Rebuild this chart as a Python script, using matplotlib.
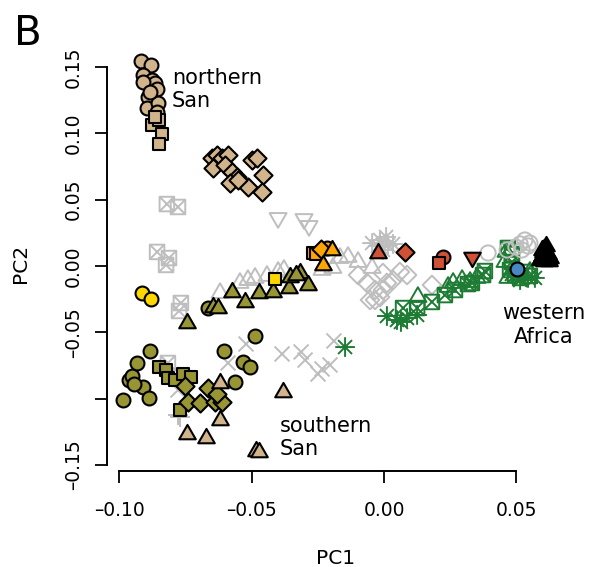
import matplotlib
matplotlib.use("Agg")
import matplotlib.pyplot as plt
from matplotlib.path import Path
import numpy as np

plt.rcParams["font.family"] = "DejaVu Sans"

# ---- colours ----
TAN = "#D2B48C"
OLIVE = "#979534"
GOLD = "#FFD700"
ORANGE = "#FFA500"
RED = "#CF5136"
BLUE = "#4A86C0"
GREEN = "#1D7B33"
GRAY = "#BEBEBE"

# ---- northern San (tan) ----
nsan_circle_x = [-0.0918, -0.0881, -0.0911, -0.0877, -0.0865, -0.0909, -0.0856, -0.0890, -0.0896, -0.0852, -0.0858, -0.0884]
nsan_circle_y = [0.1547, 0.1515, 0.1440, 0.1402, 0.1377, 0.1389, 0.1332, 0.1276, 0.1189, 0.1226, 0.1163, 0.1314]
nsan_square_x = [-0.0877, -0.0849, -0.0839, -0.0849, -0.0865]
nsan_square_y = [0.1063, 0.1100, 0.0995, 0.0920, 0.1125]
tan_diamond_x = [-0.0651, -0.0632, -0.0613, -0.0588, -0.0645, -0.0600, -0.0575, -0.0556, -0.0582, -0.0512, -0.0456, -0.0462, -0.0500, -0.0481, -0.0550]
tan_diamond_y = [0.0812, 0.0837, 0.0812, 0.0837, 0.0736, 0.0761, 0.0711, 0.0673, 0.0623, 0.0598, 0.0686, 0.0560, 0.0799, 0.0812, 0.0648]

# ---- southern San (tan triangles) ----
ssan_tri_x = [-0.0744, -0.0672, -0.0619, -0.0619, -0.0381, -0.0483, -0.0472]
ssan_tri_y = [-0.1266, -0.1296, -0.0882, -0.1161, -0.0950, -0.1394, -0.1402]

# ---- olive groups ----
olive_circle_x = [-0.0986, -0.0963, -0.0952, -0.0933, -0.0910, -0.0887, -0.0884, -0.0944, -0.0604, -0.0487, -0.0532, -0.0506, -0.0563, -0.0665]
olive_circle_y = [-0.1010, -0.0859, -0.0829, -0.0731, -0.0912, -0.0995, -0.0641, -0.0889, -0.0641, -0.0528, -0.0724, -0.0761, -0.0874, -0.0317]
olive_square_x = [-0.0850, -0.0823, -0.0816, -0.0789, -0.0759, -0.0729, -0.0770]
olive_square_y = [-0.0761, -0.0784, -0.0844, -0.0859, -0.0814, -0.0837, -0.1085]
olive_diamond_x = [-0.0752, -0.0739, -0.0695, -0.0663, -0.0638, -0.0613, -0.0631]
olive_diamond_y = [-0.0907, -0.1023, -0.1035, -0.0922, -0.1023, -0.1023, -0.0965]
olive_tri_x = [-0.0744, -0.0646, -0.0627, -0.0574, -0.0525, -0.0472, -0.0419, -0.0359, -0.0317, -0.0287, -0.0355, -0.0332]
olive_tri_y = [-0.0430, -0.0309, -0.0317, -0.0196, -0.0271, -0.0204, -0.0196, -0.0166, -0.0053, -0.0143, -0.0083, -0.0068]

# ---- yellow / orange / red / blue / black ----
gold_circle_x = [-0.0913, -0.0881]
gold_circle_y = [-0.0201, -0.0249]
gold_square_x = [-0.0412]
gold_square_y = [-0.0100]
orange_square_x = [-0.0268, -0.0258]
orange_square_y = [0.0098, 0.0090]
orange_circle_x = [-0.0215]
orange_circle_y = [0.0136]
orange_diamond_x = [-0.0238]
orange_diamond_y = [0.0128]
orange_tri_x = [-0.0196, -0.0230]
orange_tri_y = [0.0121, 0.0008]
red_tri_x = [-0.0024]
red_tri_y = [0.0096]
red_diamond_x = [0.0079]
red_diamond_y = [0.0108]
red_circle_x = [0.0224]
red_circle_y = [0.0070]
red_square_x = [0.0208]
red_square_y = [0.0020]
red_invtri_x = [0.0331]
red_invtri_y = [0.0070]
blue_circle_x = [0.0501]
blue_circle_y = [-0.0025]
black_tri_x = [0.0590, 0.0600, 0.0610, 0.0620, 0.0595, 0.0605, 0.0615, 0.0625, 0.0600, 0.0610, 0.0592, 0.0618, 0.0605, 0.0612, 0.0598, 0.0622, 0.0608, 0.0603]
black_tri_y = [0.0045, 0.0050, 0.0042, 0.0048, 0.0075, 0.0080, 0.0070, 0.0060, 0.0105, 0.0100, 0.0060, 0.0090, 0.0130, 0.0150, 0.0120, 0.0040, 0.0055, 0.0035]

# ---- green (open symbols) ----
green_xsq_x = [0.0072, 0.0125, 0.0181, 0.0230, 0.0268, 0.0317, 0.0332, 0.0374, 0.0381, 0.0476, 0.0495, 0.0514, 0.0532, 0.0551, 0.0483, 0.0468, 0.0483]
green_xsq_y = [-0.0317, -0.0317, -0.0271, -0.0219, -0.0181, -0.0136, -0.0128, -0.0068, -0.0038, -0.0030, -0.0068, -0.0090, -0.0045, -0.0075, 0.0030, 0.0136, 0.0090]
green_tri_x = [0.0128, 0.0242, 0.0261, 0.0295, 0.0325, 0.0351, 0.0457, 0.0495, 0.0468, 0.0551, 0.0461]
green_tri_y = [-0.0234, -0.0158, -0.0128, -0.0106, -0.0121, -0.0090, 0.0030, -0.0030, -0.0090, -0.0045, 0.0106]
green_star_x = [0.0011, 0.0049, 0.0087, 0.0125, 0.0064, -0.0147, 0.0514, 0.0544, 0.0570, 0.0483]
green_star_y = [-0.0377, -0.0407, -0.0392, -0.0369, -0.0422, -0.0611, -0.0106, -0.0090, -0.0090, -0.0060]

# ---- grey reference panels (open symbols) ----
gray_xsq_x = [-0.0820, -0.0778, -0.0857, -0.0812, -0.0823, -0.0767, -0.0774, -0.0816]
gray_xsq_y = [0.0467, 0.0445, 0.0106, 0.0060, 0.0008, -0.0279, -0.0339, -0.0731]
gray_plus_x = [-0.0778, -0.0770]
gray_plus_y = [-0.1123, -0.1140]
gray_invtri_x = [-0.0400, -0.0302, -0.0283]
gray_invtri_y = [0.0362, 0.0354, 0.0302]
gray_tri_x = [-0.0619, -0.0544, -0.0514, -0.0487, -0.0442, -0.0400, -0.0378, -0.0234, -0.0193, -0.0166, -0.0136, -0.0098, -0.0045]
gray_tri_y = [-0.0204, -0.0128, -0.0106, -0.0090, -0.0075, -0.0045, -0.0030, -0.0030, -0.0015, 0.0060, 0.0068, 0.0030, -0.0015]
gray_cross_x = [-0.0589, -0.0521, -0.0385, -0.0313, -0.0298, -0.0234, -0.0204, -0.0189, -0.0778, -0.0249]
gray_cross_y = [-0.0731, -0.0588, -0.0663, -0.0648, -0.0709, -0.0776, -0.0746, -0.0565, -0.0935, -0.0814]
gray_star_x = [-0.0045, -0.0015, 0.0008, 0.0015, -0.0004, 0.0034, -0.0023]
gray_star_y = [0.0173, 0.0196, 0.0219, 0.0158, 0.0121, 0.0166, 0.0151]
gray_diamond_x = [-0.0098, -0.0064, -0.0034, -0.0015, 0.0011, 0.0034, 0.0060, 0.0087, -0.0034, -0.0004, -0.0053, -0.0004, 0.0181]
gray_diamond_y = [-0.0068, -0.0128, -0.0181, -0.0234, -0.0128, -0.0106, -0.0045, -0.0068, -0.0256, -0.0053, -0.0256, -0.0181, -0.0143]
gray_circle_x = [0.0393, 0.0465, 0.0514, 0.0532, 0.0544, 0.0521, 0.0551, 0.0498]
gray_circle_y = [0.0098, 0.0121, 0.0166, 0.0196, 0.0151, 0.0121, 0.0173, 0.0143]

# ---- marker shapes (R-like plotting symbols) ----
M, L, C = Path.MOVETO, Path.LINETO, Path.CLOSEPOLY
h = np.sqrt(0.5)
TRI_UP = Path([(0, 1), (-0.866, -0.5), (0.866, -0.5), (0, 1)], [M, L, L, C])
TRI_DOWN = Path([(0, -1), (-0.866, 0.5), (0.866, 0.5), (0, -1)], [M, L, L, C])
DIAMOND = Path([(0, 1), (1, 0), (0, -1), (-1, 0), (0, 1)], [M, L, L, L, C])
STAR = Path([(-1, 0), (1, 0), (0, -1), (0, 1), (-h, -h), (h, h), (-h, h), (h, -h)],
            [M, L, M, L, M, L, M, L])
XBOX = Path([(-1, -1), (1, -1), (1, 1), (-1, 1), (-1, -1), (1, 1), (-1, 1), (1, -1)],
            [M, L, L, L, L, L, M, L])
PLUS = Path([(-1, 0), (1, 0), (0, -1), (0, 1)], [M, L, M, L])
CROSS = Path([(-1, -1), (1, 1), (-1, 1), (1, -1)], [M, L, M, L])

# symbol areas (pt^2)
S_CIRC, S_SQ, S_DIA, S_TRI = 100, 85, 170, 190
S_OXSQ, S_OTRI, S_OSTAR, S_OCROSS, S_ODIA, S_OCIRC = 110, 200, 200, 115, 180, 120

fig = plt.figure(figsize=(5.9, 5.67), dpi=100)
ax = fig.add_axes([107 / 590, 1 - 471 / 567, (565 - 107) / 590, (471 - 55) / 567])
ax.set_xlim(-0.104607, 0.068353)
ax.set_ylim(-0.154519, 0.159041)


def filled(xs, ys, marker, s, face, z):
    ax.scatter(xs, ys, marker=marker, s=s, facecolors=face, edgecolors="black",
               linewidths=1.5, zorder=z, clip_on=False)


def hollow(xs, ys, marker, s, col, z):
    ax.scatter(xs, ys, marker=marker, s=s, facecolors="none", edgecolors=col,
               linewidths=1.4, zorder=z, clip_on=False)


# reference panels underneath
hollow(gray_xsq_x, gray_xsq_y, XBOX, S_OXSQ, GRAY, 2)
hollow(gray_plus_x, gray_plus_y, PLUS, S_OSTAR, GRAY, 2)
hollow(gray_invtri_x, gray_invtri_y, TRI_DOWN, S_OTRI, GRAY, 2)
hollow(gray_tri_x, gray_tri_y, TRI_UP, S_OTRI, GRAY, 2)
hollow(gray_cross_x, gray_cross_y, CROSS, S_OCROSS, GRAY, 2)
hollow(gray_star_x, gray_star_y, STAR, S_OSTAR, GRAY, 2)
hollow(gray_diamond_x, gray_diamond_y, DIAMOND, S_ODIA, GRAY, 2)

hollow(green_xsq_x, green_xsq_y, XBOX, S_OXSQ, GREEN, 3)
hollow(green_tri_x, green_tri_y, TRI_UP, S_OTRI, GREEN, 3)
hollow(green_star_x, green_star_y, STAR, S_OSTAR, GREEN, 3)
hollow(gray_circle_x, gray_circle_y, "o", S_OCIRC, GRAY, 3.5)

# filled population symbols
filled(olive_square_x, olive_square_y, "s", S_SQ, OLIVE, 4)
filled(olive_diamond_x, olive_diamond_y, DIAMOND, S_DIA, OLIVE, 4)
filled(olive_circle_x, olive_circle_y, "o", S_CIRC, OLIVE, 4)
filled(olive_tri_x, olive_tri_y, TRI_UP, S_TRI, OLIVE, 4)
filled(nsan_circle_x, nsan_circle_y, "o", S_CIRC, TAN, 5)
filled(nsan_square_x, nsan_square_y, "s", S_SQ, TAN, 5)
filled(tan_diamond_x, tan_diamond_y, DIAMOND, S_DIA, TAN, 5)
filled(ssan_tri_x, ssan_tri_y, TRI_UP, S_TRI, TAN, 5)
filled(gold_circle_x, gold_circle_y, "o", S_CIRC, GOLD, 5)
filled(gold_square_x, gold_square_y, "s", S_SQ, GOLD, 5)
filled(orange_square_x, orange_square_y, "s", S_SQ, ORANGE, 5)
filled(orange_circle_x, orange_circle_y, "o", S_CIRC, ORANGE, 5)
filled(orange_diamond_x, orange_diamond_y, DIAMOND, S_DIA, ORANGE, 5)
filled(orange_tri_x, orange_tri_y, TRI_UP, S_TRI, ORANGE, 5)
filled(red_tri_x, red_tri_y, TRI_UP, S_TRI, RED, 5)
filled(red_diamond_x, red_diamond_y, DIAMOND, S_DIA, RED, 5)
filled(red_circle_x, red_circle_y, "o", S_CIRC, RED, 5)
filled(red_square_x, red_square_y, "s", S_SQ, RED, 5)
filled(red_invtri_x, red_invtri_y, TRI_DOWN, S_TRI, RED, 5)
filled(black_tri_x, black_tri_y, TRI_UP, S_TRI, "black", 6)
filled(blue_circle_x, blue_circle_y, "o", S_CIRC, BLUE, 7)

# region labels
ax.text(-0.0801, 0.1330, "northern\nSan", ha="left", va="center", fontsize=15, zorder=8)
ax.text(-0.0393, -0.1290, "southern\nSan", ha="left", va="center", fontsize=15, zorder=8)
ax.text(0.0604, -0.0445, "western\nAfrica", ha="center", va="center",
        multialignment="center", fontsize=15, zorder=8)

# R-style detached axes
for side in ("top", "right"):
    ax.spines[side].set_visible(False)
ax.spines["left"].set_bounds(-0.15, 0.15)
ax.spines["bottom"].set_bounds(-0.10, 0.05)
for side in ("left", "bottom"):
    ax.spines[side].set_linewidth(1.4)

xticks = [-0.10, -0.05, 0.00, 0.05]
xtick_labels = ["\u20130.10", "\u20130.05", "0.00", "0.05"]
yticks = [-0.15, -0.10, -0.05, 0.00, 0.05, 0.10, 0.15]
ytick_labels = ["\u20130.15", "", "\u20130.05", "0.00", "0.05", "0.10", "0.15"]
ax.set_xticks(xticks)
ax.set_xticklabels(xtick_labels)
ax.set_yticks(yticks)
ax.set_yticklabels(ytick_labels, rotation=90, va="center")
ax.tick_params(axis="both", length=8.3, width=1.3, labelsize=13.5)
ax.tick_params(axis="x", pad=13.5)
ax.tick_params(axis="y", pad=9)

ax.set_xlabel("PC1", fontsize=14.5, va="center")
ax.xaxis.set_label_coords(0.5, -87 / 416)
ax.set_ylabel("PC2", fontsize=14.5, va="center")
ax.yaxis.set_label_coords(-87 / 458, 0.5)

fig.text(14 / 590, 1 - 45 / 567, "B", fontsize=29, ha="left", va="baseline")

fig.savefig("out.png", dpi=100)
